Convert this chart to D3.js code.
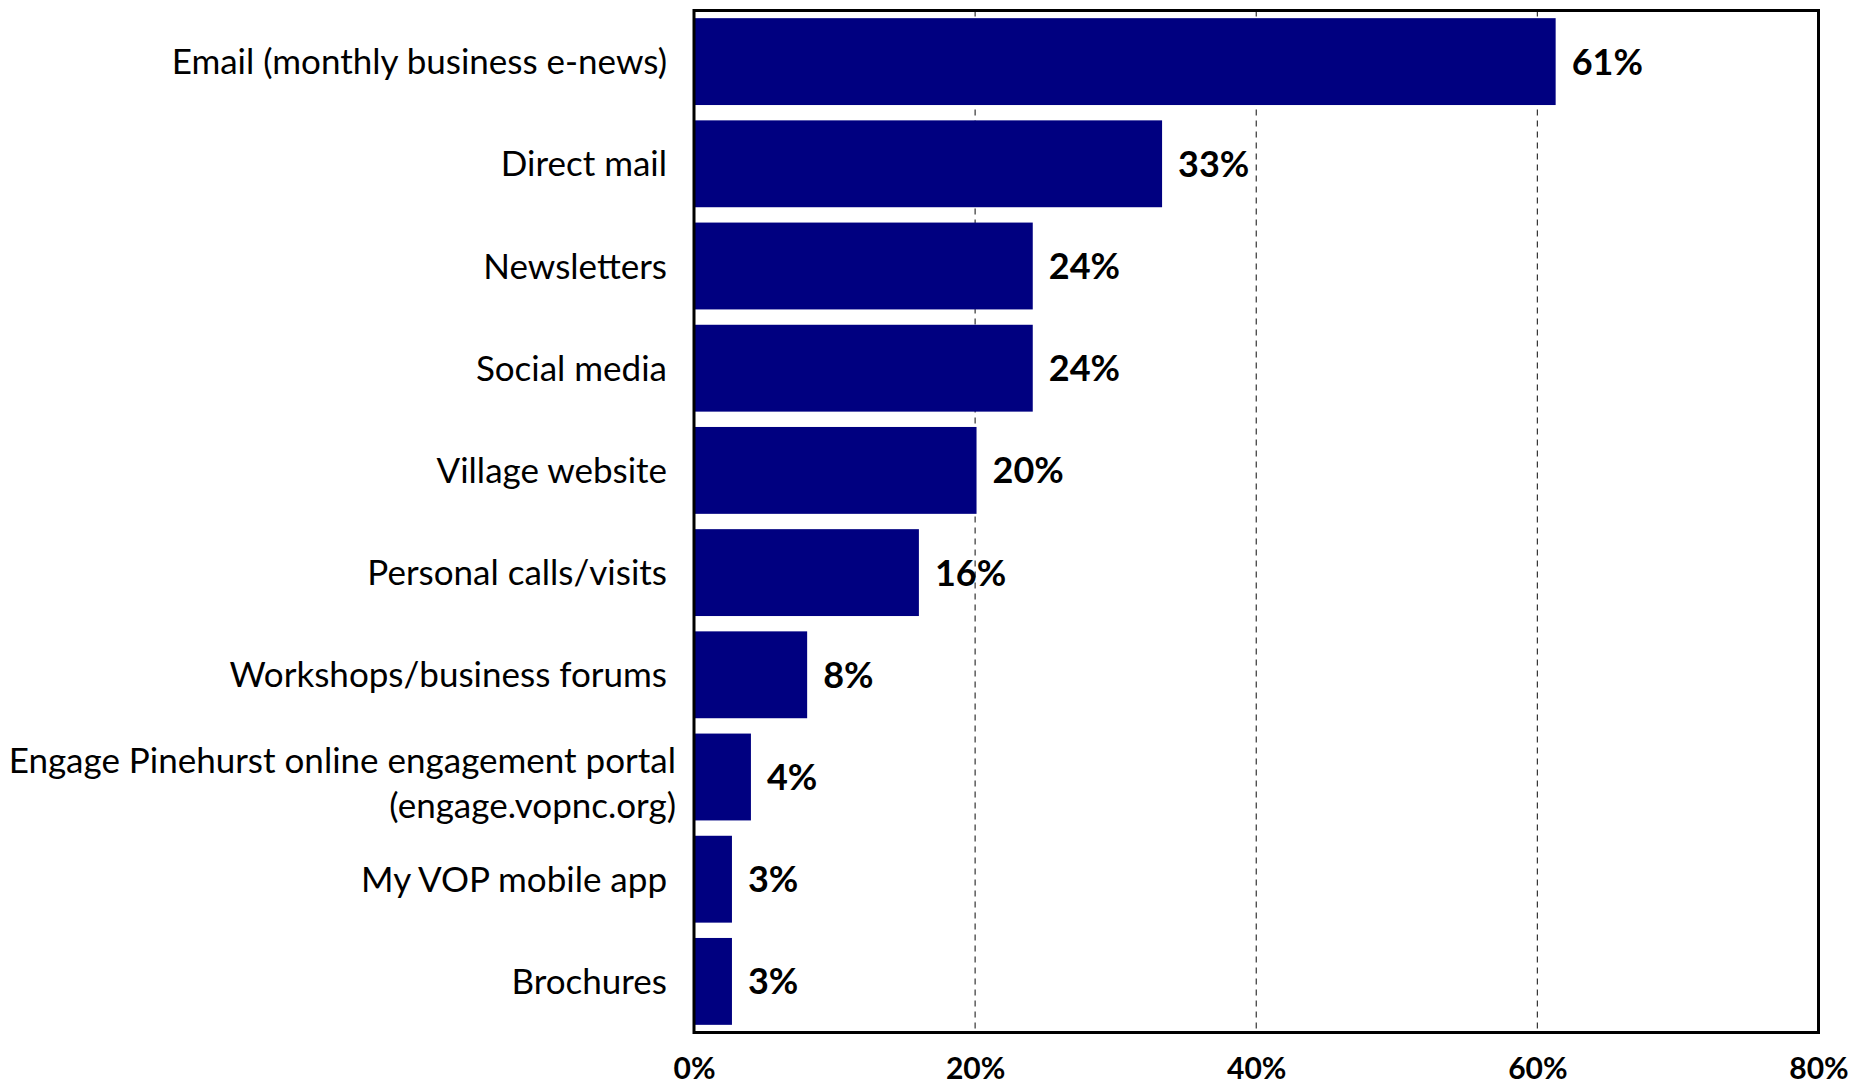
<!DOCTYPE html>
<html>
<head>
<meta charset="utf-8">
<script src="https://cdn.jsdelivr.net/npm/d3@7"></script>
<style>
  html, body { margin: 0; padding: 0; background: #fff; }
  svg { display: block; }
  text { font-family: Lato, "Open Sans", sans-serif; fill: #000; }
</style>
</head>
<body>
<svg id="chart" width="1868" height="1087"></svg>
<script>
// Communication channels, share of respondents (%)
const categories = [
  "Email (monthly business e-news)",
  "Direct mail",
  "Newsletters",
  "Social media",
  "Village website",
  "Personal calls/visits",
  "Workshops/business forums",
  "Engage Pinehurst online engagement portal\n(engage.vopnc.org)",
  "My VOP mobile app",
  "Brochures"
];
const values = [61.3, 33.3, 24.1, 24.1, 20.1, 16.0, 8.05, 4.05, 2.7, 2.7];
const xTicks = [0, 20, 40, 60, 80];
const xTickLabels = ["0%", "20%", "40%", "60%", "80%"];

const W = 1868, H = 1087;
const margin = { top: 10.5, right: 49.5, bottom: 54.5, left: 694 };
const innerW = W - margin.left - margin.right;
const innerH = H - margin.top - margin.bottom;

const svg = d3.select("#chart");
const g = svg.append("g").attr("transform", `translate(${margin.left},${margin.top})`);

const x = d3.scaleLinear().domain([0, 80]).range([0, innerW]);
const y = d3.scaleBand().domain(categories).range([0, innerH])
  .paddingInner(0.15).paddingOuter(0.075);

const data = categories.map((c, i) => ({ cat: c, value: values[i] }));

// dashed vertical gridlines at the interior ticks
g.append("g").selectAll("line")
  .data(xTicks.filter(t => t > 0 && t < 80))
  .join("line")
  .attr("x1", d => x(d)).attr("x2", d => x(d))
  .attr("y1", 0).attr("y2", innerH)
  .attr("stroke", "#333")
  .attr("stroke-width", 1.2)
  .attr("stroke-dasharray", "6,5");

// bars
g.append("g").selectAll("rect")
  .data(data)
  .join("rect")
  .attr("x", 0)
  .attr("y", d => y(d.cat))
  .attr("width", d => x(d.value))
  .attr("height", y.bandwidth())
  .attr("fill", "#000080");

// value labels
const fmt = d3.format(".0f");
g.append("g").selectAll("text")
  .data(data)
  .join("text")
  .attr("x", d => x(d.value) + 16)
  .attr("y", d => y(d.cat) + y.bandwidth() / 2)
  .attr("dy", "0.36em")
  .style("font-size", "36px")
  .style("font-weight", "bold")
  .text(d => fmt(d.value) + "%");

// category labels (right aligned, multi-line where needed)
const catG = g.append("g");
data.forEach(d => {
  const lines = d.cat.split("\n");
  const cy = y(d.cat) + y.bandwidth() / 2;
  const lineH = 45;
  const multi = lines.length > 1;
  const t = catG.append("text")
    .attr("text-anchor", "end")
    .style("font-size", "35px");
  lines.forEach((ln, k) => {
    t.append("tspan")
      .attr("x", multi ? -18 : -27)
      .attr("y", cy + (k - (lines.length - 1) / 2) * lineH + (multi ? 6 : 0))
      .attr("dy", "0.36em")
      .text(ln);
  });
});

// bottom axis labels
const xAxis = d3.axisBottom(x)
  .tickValues(xTicks)
  .tickFormat((d, i) => xTickLabels[i])
  .tickSize(0)
  .tickPadding(25);
const ax = g.append("g")
  .attr("transform", `translate(0,${innerH})`)
  .call(xAxis);
ax.select(".domain").remove();
ax.selectAll("text")
  .style("font-family", "Lato, 'Open Sans', sans-serif")
  .style("font-size", "30px")
  .style("font-weight", "bold")
  .attr("fill", "#000");

// plot frame
g.append("rect")
  .attr("x", 0).attr("y", 0)
  .attr("width", innerW).attr("height", innerH)
  .attr("fill", "none")
  .attr("stroke", "#000")
  .attr("stroke-width", 3);
</script>
</body>
</html>
